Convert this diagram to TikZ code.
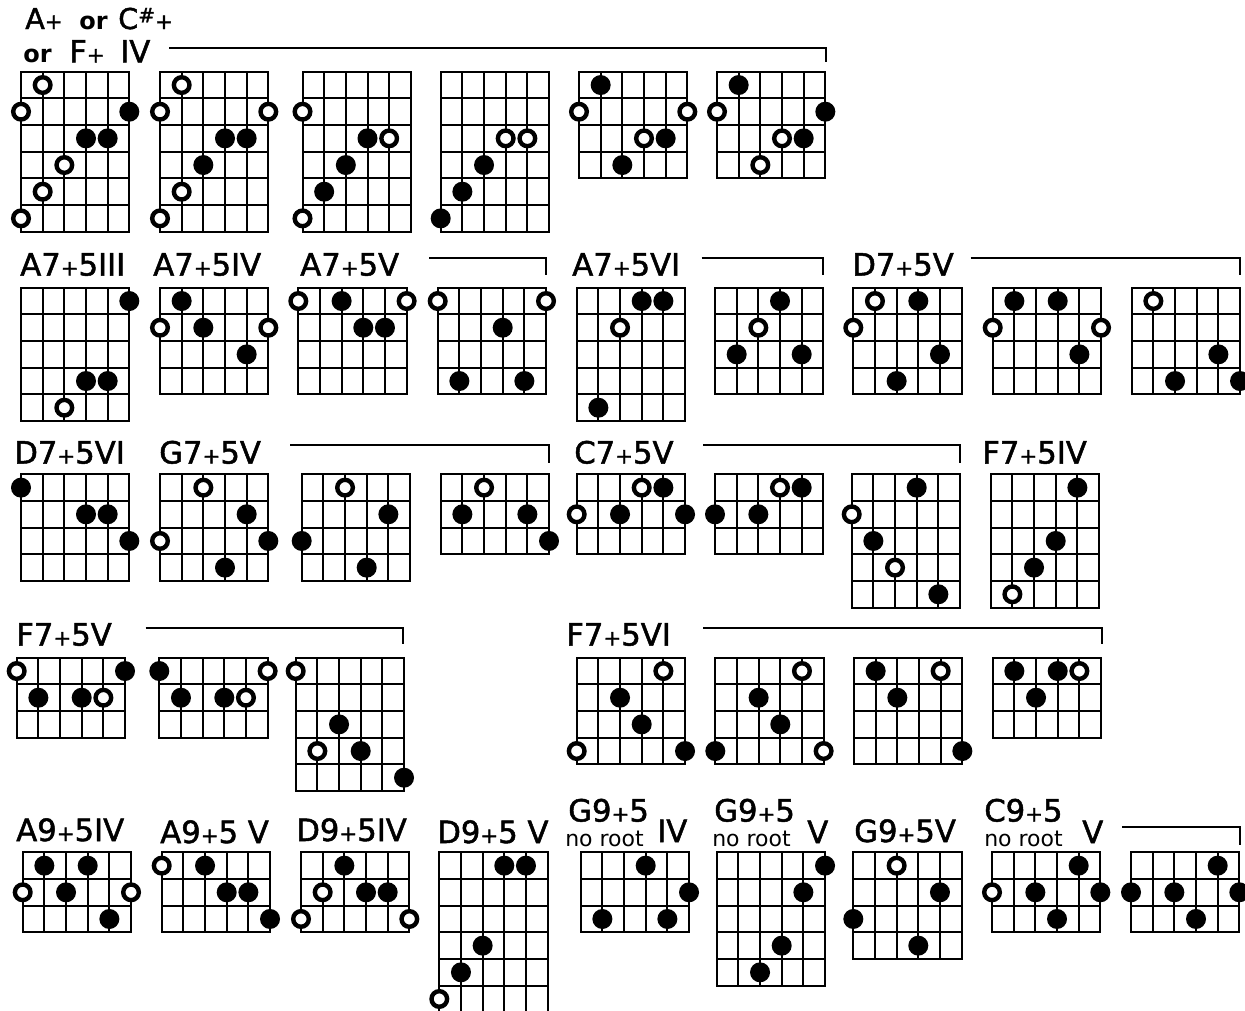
\documentclass[tikz,border=0pt]{standalone}
\usepackage{fontspec}
\setmainfont{DejaVu Sans}
\newfontfamily\lblfont{DejaVu Sans}[FakeBold=1.6]
\newcommand\smallplus{{\fontsize{16}{16}\selectfont+}}
\newcommand\sharpsym{\raisebox{5pt}{\fontsize{15}{15}\selectfont\#}}
\tikzset{
  gl/.style={line width=1.5pt, black},
  dotf/.style={fill=black, radius=10},
  doto/.style={draw=black, fill=white, line width=3.3pt, radius=7.8},
  lbl/.style={anchor=base west, inner sep=0pt, font=\lblfont\fontsize{23}{23}\selectfont},
  toplbl/.style={anchor=base west, inner sep=0pt, font=\lblfont\fontsize{21.5}{21.5}\selectfont},
  orlbl/.style={anchor=base west, inner sep=0pt, font=\bfseries\fontsize{18}{18}\selectfont},
  nrlbl/.style={anchor=base west, inner sep=0pt, font=\fontsize{16.5}{16.5}\selectfont},
}
\newcommand\chd[4]{%
  \begin{scope}[shift={(#1,#2)}]
    \foreach \ii in {1,...,4} \draw[gl] ({\ii*21.667},0) -- ({\ii*21.667},{#3*26.667});
    \foreach \jj in {1,...,#3} \draw[gl] (0,{\jj*26.667}) -- (108.33,{\jj*26.667});
    \draw[gl] (0,0) rectangle (108.33,{#3*26.667});
    \foreach \sa/\ra/\ta in {#4} \path[dot\ta] ({(\sa-1)*21.667},{(\ra-0.5)*26.667}) circle;
  \end{scope}}
\begin{document}
\begin{tikzpicture}[x=0.75pt,y=-0.75pt]
\useasboundingbox (0,0) rectangle (1245,1010);
\clip (0,0) rectangle (1245,1010);
% ---------- row 1
\node[toplbl] (t1a) at (25,29) {A\smallplus};
\node[orlbl] (t1b) at (79,29) {or};
\node[toplbl] (t1c) at (118,29) {C\sharpsym\smallplus};
\node[orlbl] (t1d) at (23,62) {or};
\node[lbl] (t1e) at (69,62.5) {F\smallplus};
\node[lbl] (t1f) at (120,62.5) {IV};
\draw[gl] (169,47.7) -- (825.7,47.7) -- (825.7,62);
\chd{21}{71.7}{6}{2/1/o,1/2/o,6/2/f,4/3/f,5/3/f,3/4/o,2/5/o,1/6/o}
\chd{160}{71.7}{6}{2/1/o,1/2/o,6/2/o,4/3/f,5/3/f,3/4/f,2/5/o,1/6/o}
\chd{302.5}{71.7}{6}{1/2/o,4/3/f,5/3/o,3/4/f,2/5/f,1/6/o}
\chd{440.7}{71.7}{6}{4/3/o,5/3/o,3/4/f,2/5/f,1/6/f}
\chd{579}{71.7}{4}{2/1/f,1/2/o,6/2/o,4/3/o,5/3/f,3/4/f}
\chd{717}{71.7}{4}{2/1/f,1/2/o,6/2/f,4/3/o,5/3/f,3/4/o}
% ---------- row 2
\node[lbl] (t2a) at (20,275.5) {A7\smallplus5III};
\node[lbl] (t2b) at (153,275.5) {A7\smallplus5IV};
\node[lbl] (t2c) at (300,275.5) {A7\smallplus5V};
\draw[gl] (429,258.3) -- (546,258.3) -- (546,275);
\node[lbl] (t2d) at (572,275.5) {A7\smallplus5VI};
\draw[gl] (701.7,258.3) -- (823.3,258.3) -- (823.3,275);
\node[lbl] (t2e) at (852,275.5) {D7\smallplus5V};
\draw[gl] (970.7,258.3) -- (1240,258.3) -- (1240,275);
\chd{21}{287.7}{5}{6/1/f,4/4/f,5/4/f,3/5/o}
\chd{160}{287.7}{4}{2/1/f,1/2/o,3/2/f,6/2/o,5/3/f}
\chd{298.3}{287.7}{4}{1/1/o,3/1/f,6/1/o,4/2/f,5/2/f}
\chd{437.7}{287.7}{4}{1/1/o,6/1/o,4/2/f,2/4/f,5/4/f}
\chd{576.7}{287.7}{5}{4/1/f,5/1/f,3/2/o,2/5/f}
\chd{715}{287.7}{4}{4/1/f,3/2/o,2/3/f,5/3/f}
\chd{853.3}{287.7}{4}{2/1/o,4/1/f,1/2/o,5/3/f,3/4/f}
\chd{992.7}{287.7}{4}{2/1/f,4/1/f,1/2/o,6/2/o,5/3/f}
\chd{1131.7}{287.7}{4}{2/1/o,5/3/f,3/4/f,6/4/f}
% ---------- row 3
\node[lbl] (t3a) at (14,463.5) {D7\smallplus5VI};
\node[lbl] (t3b) at (159,463.5) {G7\smallplus5V};
\draw[gl] (290,445) -- (549,445) -- (549,462.7);
\node[lbl] (t3c) at (574,463.5) {C7\smallplus5V};
\draw[gl] (703.3,445) -- (960,445) -- (960,462.7);
\node[lbl] (t3d) at (982,463.5) {F7\smallplus5IV};
\chd{21}{474.3}{4}{1/1/f,4/2/f,5/2/f,6/3/f}
\chd{160}{474.3}{4}{3/1/o,5/2/f,1/3/o,6/3/f,4/4/f}
\chd{301.7}{474.3}{4}{3/1/o,5/2/f,1/3/f,4/4/f}
\chd{440.7}{474.3}{3}{3/1/o,2/2/f,5/2/f,6/3/f}
\chd{576.7}{474.3}{3}{4/1/o,5/1/f,1/2/o,3/2/f,6/2/f}
\chd{715}{474.3}{3}{4/1/o,5/1/f,1/2/f,3/2/f}
\chd{851.7}{474.3}{5}{4/1/f,1/2/o,2/3/f,3/4/o,5/5/f}
\chd{990.7}{474.3}{5}{5/1/f,4/3/f,3/4/f,2/5/o}
% ---------- row 4
\node[lbl] (t4a) at (16,645.5) {F7\smallplus5V};
\draw[gl] (145.7,628.3) -- (403.3,628.3) -- (403.3,644.3);
\node[lbl] (t4b) at (566,645.5) {F7\smallplus5VI};
\draw[gl] (703,628.3) -- (1102,628.3) -- (1102,644.3);
\chd{16.7}{657.7}{3}{1/1/o,6/1/f,2/2/f,4/2/f,5/2/o}
\chd{159.3}{657.7}{3}{1/1/f,6/1/o,2/2/f,4/2/f,5/2/o}
\chd{295.7}{657.7}{5}{1/1/o,3/3/f,2/4/o,4/4/f,6/5/f}
\chd{576.7}{657.7}{4}{5/1/o,3/2/f,4/3/f,1/4/o,6/4/f}
\chd{715.3}{657.7}{4}{5/1/o,3/2/f,4/3/f,1/4/f,6/4/o}
\chd{854}{657.7}{4}{2/1/f,5/1/o,3/2/f,6/4/f}
\chd{992.7}{657.7}{3}{2/1/f,4/1/f,5/1/o,3/2/f}
% ---------- row 5
\node[lbl] (t5a) at (16,841) {A9\smallplus5IV};
\node[lbl] (t5b) at (160,843) {A9\smallplus5 V};
\node[lbl] (t5c) at (296,841) {D9\smallplus5IV};
\node[lbl] (t5d) at (437,843) {D9\smallplus5 V};
\node[lbl] (t5e) at (568,821.5) {G9\smallplus5};
\node[nrlbl] (t5f) at (565,846) {no root};
\node[lbl] (t5g) at (657,842) {IV};
\node[lbl] (t5h) at (714,821.5) {G9\smallplus5};
\node[nrlbl] (t5i) at (712,846) {no root};
\node[lbl] (t5j) at (807,843) {V};
\node[lbl] (t5k) at (854,842) {G9\smallplus5V};
\node[lbl] (t5l) at (984,821.5) {C9\smallplus5};
\node[nrlbl] (t5m) at (984,846) {no root};
\node[lbl] (t5n) at (1082,843) {V};
\draw[gl] (1122,827) -- (1240,827) -- (1240,845);
\chd{22.7}{852.3}{3}{2/1/f,4/1/f,1/2/o,3/2/f,6/2/o,5/3/f}
\chd{161.7}{852.3}{3}{1/1/o,3/1/f,4/2/f,5/2/f,6/3/f}
\chd{301}{852.3}{3}{3/1/f,2/2/o,4/2/f,5/2/f,1/3/o,6/3/o}
\chd{439.3}{852.3}{7}{4/1/f,5/1/f,3/4/f,2/5/f,1/6/o}
\chd{580.7}{852.3}{3}{4/1/f,6/2/f,2/3/f,5/3/f}
\chd{716.7}{852.3}{5}{6/1/f,5/2/f,4/4/f,3/5/f}
\chd{853.3}{852.3}{4}{3/1/o,5/2/f,1/3/f,4/4/f}
\chd{992}{852.3}{3}{5/1/f,1/2/o,3/2/f,6/2/f,4/3/f}
\chd{1131}{852.3}{3}{5/1/f,1/2/f,3/2/f,6/2/f,4/3/f}
\end{tikzpicture}
\end{document}
